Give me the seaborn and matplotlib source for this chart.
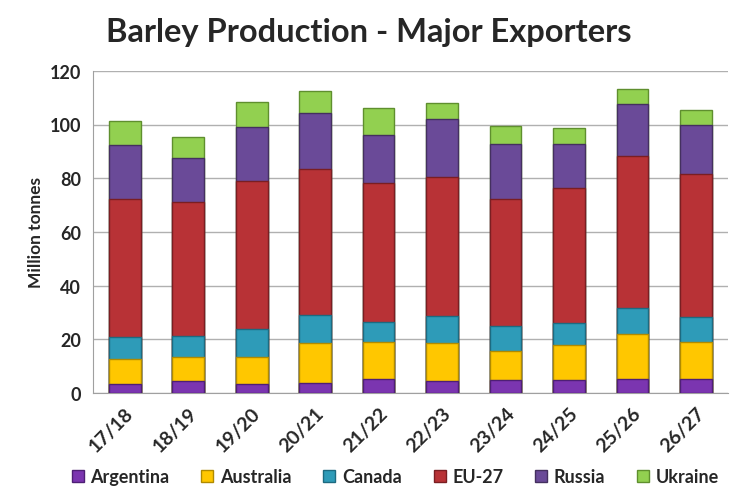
import numpy as np
import pandas as pd
import matplotlib
matplotlib.use('Agg')
import matplotlib.pyplot as plt
import seaborn as sns
from matplotlib.lines import Line2D

# 数据（百万吨）
seasons = ['17/18', '18/19', '19/20', '20/21', '21/22', '22/23', '23/24', '24/25', '25/26', '26/27']
argentina = [3.5, 4.5, 3.5, 3.7, 5.1, 4.5, 5.0, 4.7, 5.3, 5.1]
australia = [9.3, 8.8, 10.1, 14.9, 14.1, 14.1, 10.6, 13.3, 16.6, 14.1]
canada = [7.9, 8.1, 10.3, 10.5, 7.1, 10.1, 9.2, 8.0, 9.8, 9.3]
eu27 = [51.5, 49.9, 55.0, 54.3, 52.1, 51.7, 47.4, 50.5, 56.5, 53.2]
russia = [20.2, 16.4, 20.0, 20.7, 17.6, 21.5, 20.7, 16.2, 19.4, 18.2]
ukraine = [8.8, 7.8, 9.6, 8.2, 10.1, 6.2, 6.4, 5.9, 5.5, 5.6]

countries = ['Argentina', 'Australia', 'Canada', 'EU-27', 'Russia', 'Ukraine']
colors = ['#7B35B0', '#FFC700', '#2E9BB8', '#B83236', '#6A4A98', '#92D050']
edges = ['#4E1F75', '#B08A00', '#1D6A80', '#7A1E22', '#44305F', '#5F8F2E']

sns.set_style('white')
plt.rcParams['font.family'] = ['Lato', 'DejaVu Sans']
plt.rcParams['font.weight'] = 'bold'

df = pd.DataFrame({'season': seasons, 'Argentina': argentina, 'Australia': australia,
                   'Canada': canada, 'EU-27': eu27, 'Russia': russia, 'Ukraine': ukraine})
cum = df[countries].cumsum(axis=1)

fig = plt.figure(figsize=(7.38, 5.02), dpi=100)
ax = fig.add_axes([0.126, 0.215, 0.86, 0.642])

# 叠加柱：从顶层往下画累计值
for c, col, ec in reversed(list(zip(countries, colors, edges))):
    sns.barplot(x=df['season'], y=cum[c], color=col, width=0.5, edgecolor=ec,
                linewidth=1.0, saturation=1, ax=ax, zorder=3)

ax.set_ylim(0, 120)
ax.set_yticks(range(0, 121, 20))
ax.set_xlim(-0.5, len(seasons) - 0.5)
ax.grid(axis='y', color='#B0B0B0', linewidth=1, zorder=0)
ax.set_axisbelow(True)
for s in ['top', 'right']:
    ax.spines[s].set_visible(False)
for s in ['left', 'bottom']:
    ax.spines[s].set_color('#A0A0A0')
ax.set_xticks(np.arange(len(seasons)))
ax.set_xticklabels(seasons, rotation=45, ha='right', rotation_mode='anchor',
                   fontsize=14, fontweight='bold')
ax.set_xticks(np.arange(-0.5, len(seasons), 1), minor=True)
ax.tick_params(axis='x', which='major', length=0, pad=8)
ax.tick_params(axis='x', which='minor', length=5, color='#A0A0A0')
ax.tick_params(axis='y', length=5, color='#A0A0A0', labelsize=13)
for t in ax.get_yticklabels():
    t.set_fontweight('bold')
ax.set_xlabel('')
ax.set_ylabel('Million tonnes', fontsize=12.5, fontweight='bold')

fig.text(0.5, 0.935, 'Barley Production - Major Exporters', ha='center', va='center',
         fontsize=23.5, fontweight='bold')

handles = [Line2D([0], [0], marker='s', linestyle='', markersize=9,
                  markerfacecolor=col, markeredgecolor=ec) for col, ec in zip(colors, edges)]
leg = fig.legend(handles, countries, loc='center', bbox_to_anchor=(0.535, 0.048), ncol=6,
                 frameon=False, handlelength=0.8, handletextpad=0.3, columnspacing=1.7,
                 prop={'size': 13, 'weight': 'bold'})

fig.savefig('out.png', dpi=100)
